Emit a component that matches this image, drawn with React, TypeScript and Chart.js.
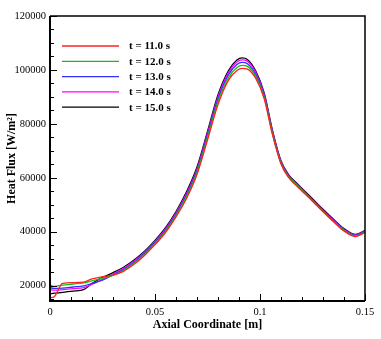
import React, { useEffect, useRef } from 'react';
import { Chart, registerables } from 'chart.js';

Chart.register(...registerables);

// Axial coordinate [m]
const axialCoord = [0, 0.002, 0.006, 0.011, 0.016, 0.02, 0.025, 0.03, 0.035, 0.04, 0.045, 0.05, 0.055, 0.06, 0.065, 0.07, 0.075, 0.08, 0.085, 0.089, 0.0915, 0.094, 0.098, 0.102, 0.106, 0.11, 0.1135, 0.118, 0.125, 0.13, 0.135, 0.14, 0.1455, 0.15];

// Heat flux [W/m²] for each time
const flux11 = [15500, 15900, 20800, 21100, 21300, 22500, 23300, 23900, 25300, 27900, 31200, 35200, 39700, 45500, 52300, 61200, 74000, 87200, 96200, 99800, 100600, 100300, 96800, 89300, 75800, 65100, 60200, 56600, 51300, 47400, 43700, 40300, 38200, 39700];
const flux12 = [20300, 19700, 20200, 20600, 21000, 21800, 22800, 23800, 25600, 28300, 31600, 35600, 40200, 46000, 53000, 62000, 75000, 88300, 97200, 100900, 101700, 101300, 97500, 89900, 76200, 65400, 60500, 56900, 51500, 47600, 43900, 40500, 38400, 39900];
const flux13 = [19200, 19000, 19100, 19500, 19900, 20800, 22000, 24000, 26000, 28700, 32000, 36000, 40600, 46500, 53600, 62700, 75800, 89200, 98200, 102000, 102800, 102300, 98300, 90500, 76600, 65700, 60800, 57100, 51700, 47800, 44100, 40700, 38600, 40100];
const flux14 = [18500, 18300, 18500, 18900, 19300, 20500, 22300, 24300, 26400, 29100, 32400, 36400, 41000, 47000, 54200, 63300, 76500, 90000, 99000, 102900, 103700, 103200, 99000, 91000, 77000, 66000, 61000, 57300, 51900, 48000, 44300, 40900, 38800, 40300];
const flux15 = [17000, 17200, 17500, 18000, 18500, 20800, 23000, 24800, 26800, 29500, 32800, 36800, 41500, 47500, 54800, 64000, 77200, 90800, 99800, 103700, 104500, 103900, 99600, 91500, 77400, 66300, 61300, 57600, 52200, 48300, 44600, 41200, 39000, 40500];

const seriesLabels = ['t = 11.0 s', 't = 12.0 s', 't = 13.0 s', 't = 14.0 s', 't = 15.0 s'];
const seriesValues = [flux11, flux12, flux13, flux14, flux15];
const seriesColors = ['#ff2020', '#10c010', '#3030ff', '#ff00ff', '#000000'];

const xTickValues = [0, 0.05, 0.1, 0.15];
const xMinorValues = [0.01, 0.02, 0.03, 0.04, 0.06, 0.07, 0.08, 0.09, 0.11, 0.12, 0.13, 0.14];
const yTickValues = [20000, 40000, 60000, 80000, 100000, 120000];
const yMinorValues = [15000, 25000, 30000, 35000, 45000, 50000, 55000, 65000, 70000, 75000, 85000, 90000, 95000, 105000, 110000, 115000];

const X_MIN = 0;
const X_MAX = 0.15;
const Y_MIN = 14300;
const Y_MAX = 120000;

const FONT = "'Liberation Serif', 'Times New Roman', serif";

const framePlugin = {
  id: 'frameAndLegend',
  afterDatasetsDraw(chart: any) {
    const { ctx, chartArea, scales } = chart;
    const { left, right, top, bottom } = chartArea;
    const xs = scales.x;
    const ys = scales.y;
    ctx.save();
    ctx.strokeStyle = '#000';
    // ticks
    ctx.lineWidth = 1;
    ctx.beginPath();
    xTickValues.forEach((v) => {
      const px = Math.round(xs.getPixelForValue(v)) + 0.5;
      ctx.moveTo(px, bottom);
      ctx.lineTo(px, bottom - 7);
    });
    xMinorValues.forEach((v) => {
      const px = Math.round(xs.getPixelForValue(v)) + 0.5;
      ctx.moveTo(px, bottom);
      ctx.lineTo(px, bottom - 4);
    });
    yTickValues.forEach((v) => {
      const py = Math.round(ys.getPixelForValue(v)) + 0.5;
      ctx.moveTo(left, py);
      ctx.lineTo(left + 7, py);
    });
    yMinorValues.forEach((v) => {
      const py = Math.round(ys.getPixelForValue(v)) + 0.5;
      ctx.moveTo(left, py);
      ctx.lineTo(left + 4, py);
    });
    ctx.stroke();
    // frame
    ctx.lineWidth = 2;
    ctx.beginPath();
    ctx.moveTo(left, top);
    ctx.lineTo(left, bottom);
    ctx.lineTo(right, bottom);
    ctx.stroke();
    ctx.lineWidth = 1.5;
    ctx.beginPath();
    ctx.moveTo(left, top);
    ctx.lineTo(right, top);
    ctx.lineTo(right, bottom);
    ctx.stroke();
    // legend
    ctx.font = `bold 11px ${FONT}`;
    ctx.textBaseline = 'middle';
    ctx.textAlign = 'left';
    ctx.fillStyle = '#000';
    seriesLabels.forEach((lab, i) => {
      const yy = top + 30 + i * 15.3;
      ctx.strokeStyle = seriesColors[i];
      ctx.lineWidth = 1.3;
      ctx.beginPath();
      ctx.moveTo(left + 12, yy);
      ctx.lineTo(left + 69, yy);
      ctx.stroke();
      ctx.fillText(lab, left + 79, yy + 0.5);
    });
    ctx.restore();
  },
};

export default function App() {
  const canvasRef = useRef<HTMLCanvasElement | null>(null);

  useEffect(() => {
    const canvas = canvasRef.current;
    if (!canvas) return;
    const datasets = seriesValues.map((vals, i) => ({
      label: seriesLabels[i],
      data: axialCoord.map((x, j) => ({ x, y: vals[j] })),
      borderColor: seriesColors[i],
      backgroundColor: seriesColors[i],
      borderWidth: 1.3,
      pointRadius: 0,
      fill: false,
      cubicInterpolationMode: 'monotone' as const,
    }));
    const chart = new Chart(canvas, {
      type: 'line',
      data: { datasets },
      options: {
        responsive: false,
        animation: false,
        devicePixelRatio: 1,
        layout: { padding: { left: 0, right: 16, top: 16, bottom: 0 } },
        plugins: {
          legend: { display: false },
          tooltip: { enabled: false },
        },
        scales: {
          x: {
            type: 'linear',
            min: X_MIN,
            max: X_MAX,
            grid: { display: false, drawTicks: false },
            border: { display: false },
            afterBuildTicks: (scale: any) => {
              scale.ticks = xTickValues.map((v) => ({ value: v }));
            },
            afterFit: (scale: any) => {
              scale.height = 38;
            },
            ticks: {
              padding: 5,
              color: '#000',
              font: { family: FONT, size: 10.5 },
              maxRotation: 0,
              callback: (v: any) => String(v),
            },
            title: {
              display: true,
              text: 'Axial Coordinate [m]',
              color: '#000',
              font: { family: FONT, size: 12, weight: 'bold' },
              padding: { top: 0, bottom: 7 },
            },
          },
          y: {
            type: 'linear',
            min: Y_MIN,
            max: Y_MAX,
            grid: { display: false, drawTicks: false },
            border: { display: false },
            afterBuildTicks: (scale: any) => {
              scale.ticks = yTickValues.map((v) => ({ value: v }));
            },
            afterFit: (scale: any) => {
              scale.width = 50;
            },
            ticks: {
              padding: 4,
              color: '#000',
              font: { family: FONT, size: 10.5 },
              callback: (v: any) => String(v),
            },
            title: {
              display: true,
              text: 'Heat Flux [W/m²]',
              color: '#000',
              font: { family: FONT, size: 12, weight: 'bold' },
              padding: { top: 5, bottom: 0 },
            },
          },
        },
      },
      plugins: [framePlugin],
    });
    return () => chart.destroy();
  }, []);

  return (
    <div style={{ position: 'fixed', left: 0, top: 0, width: 381, height: 339, background: '#fff' }}>
      <canvas ref={canvasRef} width={381} height={339} style={{ width: 381, height: 339 }} />
    </div>
  );
}
